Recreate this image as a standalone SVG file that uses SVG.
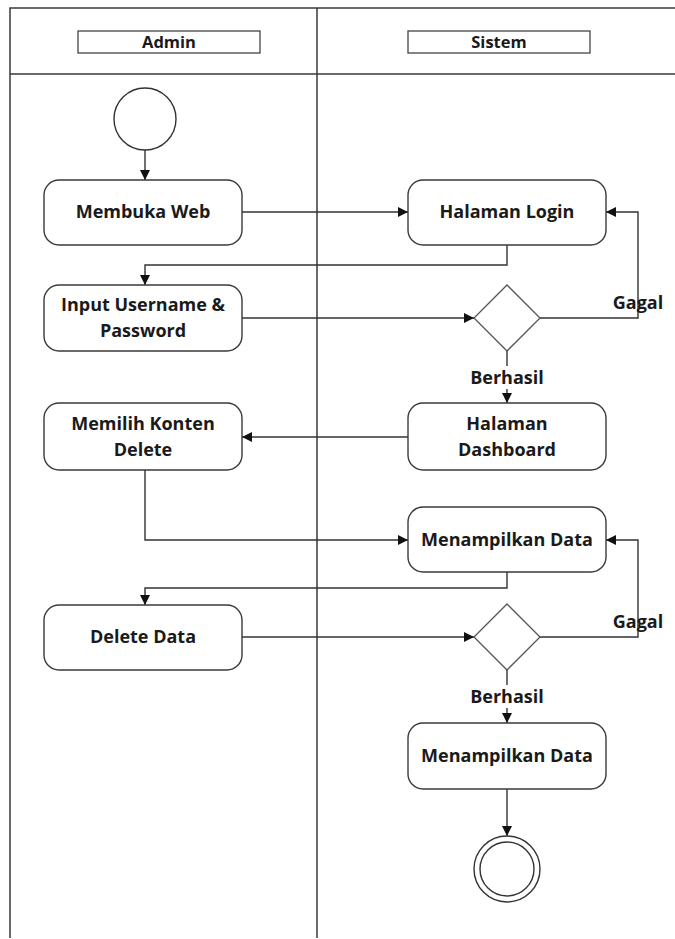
<svg xmlns="http://www.w3.org/2000/svg" width="675" height="939" viewBox="0 0 675 939">
  <style>
    .lane { fill: none; stroke: #3a3a3a; stroke-width: 1.5; }
    .hdr { fill: #fff; stroke: #444; stroke-width: 1.3; }
    .act { fill: #fff; stroke: #3a3a3a; stroke-width: 1.4; }
    .dec { fill: #fff; stroke: #555; stroke-width: 1.3; }
    .flow { fill: none; stroke: #333; stroke-width: 1.4; }
    .t { font-family: "Open Sans", Lato, "Liberation Sans", sans-serif; font-weight: bold; font-size: 18px; fill: #1a1a1a; text-anchor: middle; }
    .th { font-family: "Open Sans", Lato, "Liberation Sans", sans-serif; font-weight: bold; font-size: 16.5px; fill: #1a1a1a; text-anchor: middle; }
  </style>
  <defs>
    <marker id="arr" viewBox="0 0 10 10" refX="10" refY="5" markerWidth="10" markerHeight="10" markerUnits="userSpaceOnUse" orient="auto">
      <path d="M0,0 L10,5 L0,10 z" fill="#111"/>
    </marker>
  </defs>
  <rect width="675" height="939" fill="#fff"/>

  <!-- swimlanes -->
  <g id="lanes">
    <path class="lane" d="M10,938 V8 H675 M10,74 H675 M317,8 V938"/>
    <rect class="hdr" x="78" y="31" width="182" height="22"/>
    <text class="th" x="169" y="48">Admin</text>
    <rect class="hdr" x="408" y="31" width="182" height="22"/>
    <text class="th" x="499" y="48">Sistem</text>
  </g>

  <!-- connectors -->
  <g id="connectors">
    <path class="flow" d="M145,150 V180" marker-end="url(#arr)"/>
    <path class="flow" d="M242,212 H408" marker-end="url(#arr)"/>
    <path class="flow" d="M507,245 V265 H145 V285" marker-end="url(#arr)"/>
    <path class="flow" d="M242,318 H474" marker-end="url(#arr)"/>
    <path class="flow" d="M540,318 H638 V212 H606" marker-end="url(#arr)"/>
    <path class="flow" d="M507,351 V366"/>
    <path class="flow" d="M507,389 V403" marker-end="url(#arr)"/>
    <path class="flow" d="M408,437 H242" marker-end="url(#arr)"/>
    <path class="flow" d="M145,470 V540 H408" marker-end="url(#arr)"/>
    <path class="flow" d="M540,637 H638 V540 H606" marker-end="url(#arr)"/>
    <path class="flow" d="M507,572 V588 H145 V605" marker-end="url(#arr)"/>
    <path class="flow" d="M242,637 H474" marker-end="url(#arr)"/>
    <path class="flow" d="M507,670 V685"/>
    <path class="flow" d="M507,708 V723" marker-end="url(#arr)"/>
    <path class="flow" d="M507,789 V836" marker-end="url(#arr)"/>
    <text class="t" x="638" y="309">Gagal</text>
    <text class="t" x="507" y="384">Berhasil</text>
    <text class="t" x="638" y="628">Gagal</text>
    <text class="t" x="507" y="703">Berhasil</text>
  </g>

  <g id="start">
    <circle cx="145" cy="119" r="31" fill="#fff" stroke="#333" stroke-width="1.4"/>
  </g>

  <g id="membuka-web">
    <rect class="act" x="44" y="180" width="198" height="65" rx="15"/>
    <text class="t" x="143" y="218">Membuka Web</text>
  </g>

  <g id="halaman-login">
    <rect class="act" x="408" y="180" width="198" height="65" rx="15"/>
    <text class="t" x="507" y="218">Halaman Login</text>
  </g>

  <g id="input-login">
    <rect class="act" x="44" y="285" width="198" height="66" rx="15"/>
    <text class="t" x="143" y="311">Input Username &amp;</text>
    <text class="t" x="143" y="337">Password</text>
  </g>

  <g id="cek-login">
    <path class="dec" d="M507,285 L540,318 L507,351 L474,318 z"/>
  </g>

  <g id="halaman-dashboard">
    <rect class="act" x="408" y="403" width="198" height="67" rx="15"/>
    <text class="t" x="507" y="430">Halaman</text>
    <text class="t" x="507" y="456">Dashboard</text>
  </g>

  <g id="memilih-konten">
    <rect class="act" x="44" y="403" width="198" height="67" rx="15"/>
    <text class="t" x="143" y="430">Memilih Konten</text>
    <text class="t" x="143" y="456">Delete</text>
  </g>

  <g id="menampilkan-data-1">
    <rect class="act" x="408" y="507" width="198" height="65" rx="15"/>
    <text class="t" x="507" y="546">Menampilkan Data</text>
  </g>

  <g id="delete-data">
    <rect class="act" x="44" y="605" width="198" height="65" rx="15"/>
    <text class="t" x="143" y="643">Delete Data</text>
  </g>

  <g id="cek-delete">
    <path class="dec" d="M507,604 L540,637 L507,670 L474,637 z"/>
  </g>

  <g id="menampilkan-data-2">
    <rect class="act" x="408" y="723" width="198" height="66" rx="15"/>
    <text class="t" x="507" y="762">Menampilkan Data</text>
  </g>

  <g id="end">
    <circle cx="507" cy="869" r="33" fill="#fff" stroke="#333" stroke-width="1.4"/>
    <circle cx="507" cy="869" r="27" fill="#fff" stroke="#333" stroke-width="1.4"/>
  </g>
</svg>
